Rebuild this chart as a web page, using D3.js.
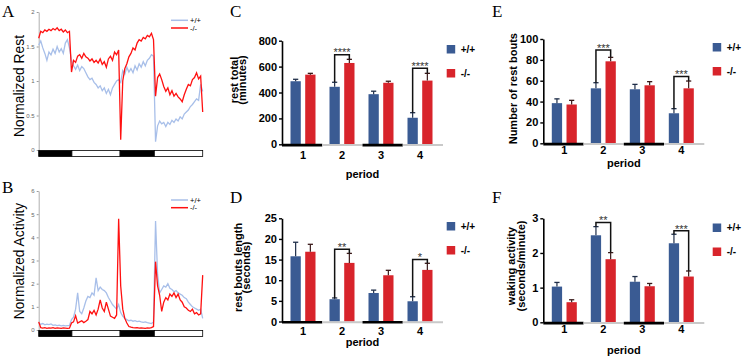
<!DOCTYPE html>
<html>
<head>
<meta charset="utf-8">
<script src="https://cdn.jsdelivr.net/npm/d3@7"></script>
<style>
  body { margin: 0; background: #fff; }
  svg { display: block; font-family: Arial, "Liberation Sans", sans-serif; }
</style>
</head>
<body>
<div id="fig"></div>
<script>
// ---- traces (A, B), one value per sample ----
const restWT = [1.52,1.58,1.48,1.40,1.30,1.42,1.38,1.46,1.40,1.50,1.42,1.47,1.40,1.55,1.60,1.48,
  1.30,1.22,1.17,1.23,1.15,1.21,1.18,1.12,1.06,1.02,1.04,0.98,0.95,0.90,0.93,0.86,0.90,0.82,0.88,0.80,0.90,0.95,1.00,1.02,
  0.98,1.15,1.10,1.20,1.13,1.18,1.12,1.22,1.16,1.25,1.20,1.28,1.22,1.30,1.33,1.38,1.36,
  0.12,0.35,0.42,0.38,0.40,0.34,0.40,0.37,0.43,0.40,0.45,0.42,0.48,0.45,0.52,0.55,0.58,0.63,0.66,0.70,0.74,0.72,0.95,0.85];
const restKO = [1.62,1.72,1.70,1.74,1.72,1.75,1.73,1.76,1.74,1.77,1.73,1.75,1.71,1.74,1.70,1.72,
  1.13,1.30,1.27,1.36,1.38,1.33,1.40,1.35,1.33,1.29,1.32,1.27,1.30,1.26,1.32,1.24,1.28,1.20,1.32,1.36,1.30,1.42,1.38,1.45,
  0.15,1.00,1.18,1.25,1.35,1.40,1.48,1.45,1.55,1.60,1.58,1.63,1.61,1.66,1.64,1.69,1.60,
  0.78,1.05,1.10,1.02,0.92,0.85,0.90,0.80,0.86,0.78,0.82,0.77,0.74,0.70,0.80,0.88,0.95,0.93,1.02,1.05,1.12,1.03,1.07,0.55];
const actWT = [0.30,0.25,0.28,0.22,0.25,0.23,0.26,0.20,0.22,0.19,0.21,0.18,0.20,0.18,0.19,0.20,
  0.45,0.55,0.90,1.60,0.80,0.70,0.95,1.25,1.45,1.40,1.60,1.50,2.25,1.70,1.85,1.75,1.70,1.60,1.40,1.25,1.10,1.00,0.90,1.10,
  0.75,0.60,0.50,0.45,0.40,0.42,0.38,0.40,0.36,0.38,0.35,0.33,0.35,0.32,0.30,0.28,0.35,
  4.70,2.40,1.60,1.75,1.90,1.85,2.00,1.80,1.75,1.65,1.70,1.60,1.55,1.50,1.40,1.35,1.20,1.10,1.00,0.95,0.90,0.85,0.90,0.50];
const actKO = [0.35,0.10,0.08,0.10,0.07,0.09,0.08,0.10,0.07,0.09,0.08,0.07,0.09,0.08,0.07,0.08,
  0.30,0.35,0.62,0.30,0.35,0.40,0.32,0.38,0.45,0.80,0.70,0.85,0.65,0.90,1.30,0.95,0.80,1.20,0.90,0.60,0.55,0.50,0.65,
  4.80,
  1.90,0.90,0.50,0.30,0.15,0.12,0.10,0.09,0.10,0.08,0.09,0.08,0.07,0.09,0.08,0.10,0.15,
  2.95,1.90,1.50,0.80,1.20,1.40,1.30,1.55,1.45,1.60,1.40,1.55,1.30,1.20,1.00,0.95,0.85,0.80,0.90,0.70,0.75,0.65,0.70,2.37];
// light/dark schedule, in sample units
const phaseEdges = [0, 16.2, 39.7, 56.4, 80];
const phases = ["dark", "light", "dark", "light"];
const restTicks = [0, 0.5, 1, 1.5, 2];
const actTicks = [0, 1, 2, 3, 4, 5, 6];

// ---- bar panels (C-F) ----
const periods = ["1", "2", "3", "4"];
const groups = ["+/+", "-/-"];
const restTotalWT = [487, 444, 387, 205], restTotalWTErr = [15, 35, 23, 39];
const restTotalKO = [538, 628, 475, 492], restTotalKOErr = [10, 28, 12, 56];
const restTotalTicks = [0, 200, 400, 600, 800];
const restTotalSig = [{ period: "2", y: 692, label: "****" }, { period: "4", y: 587, label: "****" }];

const boutLenWT = [15.8, 5.4, 6.9, 4.9], boutLenWTErr = [3.4, 0.3, 0.7, 1.1];
const boutLenKO = [16.9, 14.2, 11.2, 12.5], boutLenKOErr = [1.8, 2.3, 1.2, 1.6];
const boutLenTicks = [0, 5, 10, 15, 20, 25];
const boutLenSig = [{ period: "2", y: 17.5, label: "**" }, { period: "4", y: 15, label: "*" }];

const boutNumWT = [38.5, 52.7, 51.8, 28.8], boutNumWTErr = [4.1, 5.4, 4.7, 4.4];
const boutNumKO = [37.2, 78.6, 55.6, 52.7], boutNumKOErr = [4.0, 3.8, 3.5, 7.0];
const boutNumTicks = [0, 20, 40, 60, 80, 100];
const boutNumSig = [{ period: "2", y: 89.5, label: "***" }, { period: "4", y: 64, label: "***" }];

const wakeWT = [1.03, 2.51, 1.17, 2.28], wakeWTErr = [0.12, 0.25, 0.15, 0.26];
const wakeKO = [0.58, 1.82, 1.04, 1.32], wakeKOErr = [0.07, 0.19, 0.08, 0.16];
const wakeTicks = [0, 1, 2, 3];
const wakeSig = [{ period: "2", y: 2.88, label: "**" }, { period: "4", y: 2.64, label: "***" }];

const WT_LINE = "#a8bfe9", KO_LINE = "#ff1010";
const WT_BAR = "#3a5b93", KO_BAR = "#d8242b";
const fmt = d3.format("~g");

const svg = d3.select("#fig").append("svg")
  .attr("width", 746)
  .attr("height", 358);

// panel letters
[["A", 2, 17], ["B", 2, 193], ["C", 230, 17], ["D", 230, 203], ["E", 492, 17], ["F", 492, 203]]
  .forEach(([t, x, y]) => {
    svg.append("text").attr("x", x).attr("y", y)
      .style("font-family", "'Liberation Serif', 'Times New Roman', serif")
      .style("font-size", "17px")
      .text(t);
  });

/* line traces with the light/dark bar underneath */
function tracePanel(o) {
  const x = d3.scaleLinear().domain([0, o.wt.length - 1]).range([38.7, 202.7]);
  const y = d3.scaleLinear().domain([0, o.ticks[o.ticks.length - 1]]).range([o.y0, o.yTop]);
  const g = svg.append("g");

  const ax = g.append("g")
    .attr("transform", "translate(38.7,0)")
    .call(d3.axisLeft(y).tickValues(o.ticks).tickFormat(fmt).tickSize(2).tickSizeOuter(0).tickPadding(2));
  ax.select(".domain").attr("stroke", "#9a9a9a").attr("stroke-width", 0.8);
  ax.selectAll(".tick line").attr("stroke", "#9a9a9a");
  ax.selectAll(".tick text").style("font-size", "6px").attr("fill", "#666")
    .style("font-family", "Arial, sans-serif");

  const line = d3.line().x((d, i) => x(i)).y(d => y(d));
  g.append("path").datum(o.wt).attr("d", line)
    .attr("fill", "none").attr("stroke", WT_LINE).attr("stroke-width", 1.3);
  g.append("path").datum(o.ko).attr("d", line)
    .attr("fill", "none").attr("stroke", KO_LINE).attr("stroke-width", 1.3);

  g.selectAll("rect.phase")
    .data(phases)
    .enter().append("rect")
    .attr("x", (d, i) => x(phaseEdges[i]))
    .attr("width", (d, i) => x(phaseEdges[i + 1]) - x(phaseEdges[i]))
    .attr("y", o.y0 + 0.5)
    .attr("height", 6)
    .attr("fill", d => d === "dark" ? "#000" : "#fff")
    .attr("stroke", "#000")
    .attr("stroke-width", 0.8);

  // legend
  [[WT_LINE, "+/+", 0], [KO_LINE, "-/-", 7.7]].forEach(([c, t, dy]) => {
    g.append("line").attr("x1", 171).attr("x2", 188)
      .attr("y1", o.legendY + dy).attr("y2", o.legendY + dy)
      .attr("stroke", c).attr("stroke-width", 1.5);
    g.append("text").attr("x", 190).attr("y", o.legendY + dy + 2.5)
      .style("font-size", "7.5px").text(t);
  });

  g.append("text")
    .attr("transform", `translate(23.5,${o.labelY}) rotate(-90)`)
    .attr("text-anchor", "middle")
    .style("font-size", "13.8px")
    .text(o.label);
}

tracePanel({ wt: restWT, ko: restKO, ticks: restTicks, y0: 150, yTop: 12, legendY: 20.3, label: "Normalized Rest", labelY: 86 });
tracePanel({ wt: actWT, ko: actKO, ticks: actTicks, y0: 330, yTop: 191, legendY: 200, label: "Normalized Activity", labelY: 261 });

/* grouped bar chart with error bars and significance brackets */
function barPanel(o) {
  const g = svg.append("g");
  const x0 = d3.scaleBand().domain(periods).range([o.axisX + 1.5, o.axisX + 157.5]);
  const seg = d3.scaleBand().domain(periods).range([o.axisX, o.axisX + 161]);
  const x1 = d3.scaleBand().domain(groups).range([0, 25]).paddingInner(0.3);
  const y = d3.scaleLinear().domain([0, o.ticks[o.ticks.length - 1]]).range([o.y0, o.yTop]);
  const gx = p => x0(p) + (x0.bandwidth() - 25) / 2;

  const rows = [];
  periods.forEach((p, i) => {
    rows.push({ p, grp: "+/+", v: o.wt[i], e: o.wtErr[i], c: WT_BAR, ec: "#1e2d48" });
    rows.push({ p, grp: "-/-", v: o.ko[i], e: o.koErr[i], c: KO_BAR, ec: "#3a1a1a" });
  });
  const cx = d => gx(d.p) + x1(d.grp) + x1.bandwidth() / 2;

  g.selectAll("rect.bar")
    .data(rows)
    .enter().append("rect")
    .attr("x", d => gx(d.p) + x1(d.grp))
    .attr("width", x1.bandwidth())
    .attr("y", d => y(d.v))
    .attr("height", d => y(0) - y(d.v))
    .attr("fill", d => d.c);

  // error bars (upper only)
  g.selectAll("line.err")
    .data(rows)
    .enter().append("line")
    .attr("x1", cx).attr("x2", cx)
    .attr("y1", d => y(d.v)).attr("y2", d => y(d.v + d.e))
    .attr("stroke", d => d.ec).attr("stroke-width", 1.2);
  g.selectAll("line.cap")
    .data(rows)
    .enter().append("line")
    .attr("x1", d => cx(d) - 2.6).attr("x2", d => cx(d) + 2.6)
    .attr("y1", d => y(d.v + d.e)).attr("y2", d => y(d.v + d.e))
    .attr("stroke", d => d.ec).attr("stroke-width", 1.3);

  // y axis
  const ax = g.append("g")
    .attr("transform", `translate(${o.axisX},0)`)
    .call(d3.axisLeft(y).tickValues(o.ticks).tickFormat(fmt).tickSize(3).tickSizeOuter(0).tickPadding(2));
  ax.select(".domain").attr("stroke", "#000").attr("stroke-width", 1.6);
  ax.selectAll(".tick line").attr("stroke", "#000").attr("stroke-width", 1.4);
  ax.selectAll(".tick text").attr("fill", "#000")
    .style("font-size", "11px").style("font-weight", "bold")
    .style("font-family", "Arial, 'Liberation Sans', sans-serif");

  // x axis: dark periods black, light periods grey
  g.selectAll("line.xseg")
    .data(periods)
    .enter().append("line")
    .attr("x1", p => seg(p)).attr("x2", p => seg(p) + seg.bandwidth())
    .attr("y1", o.y0 + 0.8).attr("y2", o.y0 + 0.8)
    .attr("stroke", (p, i) => phases[i] === "dark" ? "#000" : "#c9c9c9")
    .attr("stroke-width", (p, i) => phases[i] === "dark" ? 2.6 : 2);

  g.selectAll("text.xlab")
    .data(periods)
    .enter().append("text")
    .attr("x", p => gx(p) + 12.5)
    .attr("y", o.y0 + o.tickDy)
    .attr("text-anchor", "middle")
    .style("font-size", "11px").style("font-weight", "bold")
    .text(p => p);

  g.append("text")
    .attr("x", o.axisX + 80.5)
    .attr("y", o.y0 + o.periodDy)
    .attr("text-anchor", "middle")
    .style("font-size", "11px").style("font-weight", "bold")
    .text("period");

  o.ylabel.forEach(([t, bx]) => {
    g.append("text")
      .attr("transform", `translate(${bx},${o.labelY}) rotate(-90)`)
      .attr("text-anchor", "middle")
      .style("font-size", "11px").style("font-weight", "bold")
      .text(t);
  });

  // significance brackets
  o.sig.forEach(s => {
    const i = periods.indexOf(s.period);
    const a = rows[i * 2], b = rows[i * 2 + 1];
    const yb = y(s.y);
    g.append("path")
      .attr("d", `M${cx(a)},${y(a.v + a.e)}V${yb}H${cx(b)}V${y(b.v + b.e)}`)
      .attr("fill", "none").attr("stroke", "#111").attr("stroke-width", 1.5);
    g.append("text")
      .attr("x", (cx(a) + cx(b)) / 2).attr("y", yb + 1.8)
      .attr("text-anchor", "middle")
      .attr("fill", "#333")
      .style("font-size", "11px")
      .text(s.label);
  });

  // legend
  groups.forEach((t, k) => {
    g.append("rect")
      .attr("x", o.legendX).attr("y", o.legendY + k * 24)
      .attr("width", 8.5).attr("height", 8.5)
      .attr("fill", k === 0 ? WT_BAR : KO_BAR);
    g.append("text")
      .attr("x", o.legendX + 14).attr("y", o.legendY + k * 24 + 7.5)
      .style("font-size", "10px").style("font-weight", "bold")
      .text(t);
  });
}

barPanel({ axisX: 282, y0: 144.3, yTop: 40.7, ticks: restTotalTicks,
  wt: restTotalWT, wtErr: restTotalWTErr, ko: restTotalKO, koErr: restTotalKOErr, sig: restTotalSig,
  tickDy: 15, periodDy: 33.5, ylabel: [["rest total", 238], ["(minutes)", 245.5]], labelY: 80,
  legendX: 446.7, legendY: 45 });

barPanel({ axisX: 282, y0: 321.5, yTop: 218.3, ticks: boutLenTicks,
  wt: boutLenWT, wtErr: boutLenWTErr, ko: boutLenKO, koErr: boutLenKOErr, sig: boutLenSig,
  tickDy: 13, periodDy: 24.5, ylabel: [["rest bouts length", 241.5], ["(seconds)", 249.5]], labelY: 267.5,
  legendX: 446.7, legendY: 222 });

barPanel({ axisX: 543.3, y0: 143.3, yTop: 39, ticks: boutNumTicks,
  wt: boutNumWT, wtErr: boutNumWTErr, ko: boutNumKO, koErr: boutNumKOErr, sig: boutNumSig,
  tickDy: 11, periodDy: 23.5, ylabel: [["Number of rest bouts", 516.5]], labelY: 88.7,
  legendX: 712.7, legendY: 43 });

barPanel({ axisX: 543.3, y0: 322.3, yTop: 218.3, ticks: wakeTicks,
  wt: wakeWT, wtErr: wakeWTErr, ko: wakeKO, koErr: wakeKOErr, sig: wakeSig,
  tickDy: 11, periodDy: 31.5, ylabel: [["waking activity", 514.5], ["(seconds/minute)", 524.5]], labelY: 266,
  legendX: 712.7, legendY: 223.5 });
</script>
</body>
</html>
